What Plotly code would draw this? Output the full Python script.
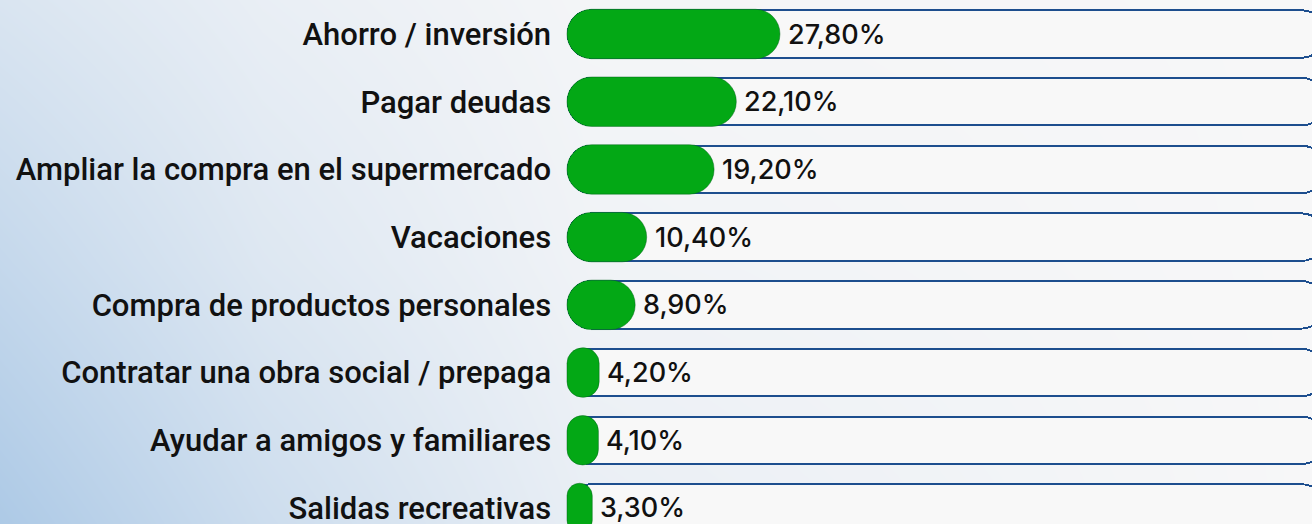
import plotly.graph_objects as go

# ---- data ----
categories = [
    "Ahorro / inversión",
    "Pagar deudas",
    "Ampliar la compra en el supermercado",
    "Vacaciones",
    "Compra de productos personales",
    "Contratar una obra social / prepaga",
    "Ayudar a amigos y familiares",
    "Salidas recreativas",
]
values = [27.8, 22.1, 19.2, 10.4, 8.9, 4.2, 4.1, 3.3]
value_labels = [f"{v:.2f}".replace(".", ",") + "%" for v in values]

# ---- style ----
TRACK_END = 98.8
GREEN = "#03a815"
NAVY = "#1d4e8e"
TRACK_FILL = "#f8f8f8"
BAR_W = 0.73
INNER_W = 0.672
BORDER_X = 0.26

W, H = 1312, 524
PX_PER_UNIT = 7.66
X0_PX = 567
x_min = -1.0
dom_start = (X0_PX + x_min * PX_PER_UNIT) / W
x_max = (W - X0_PX) / PX_PER_UNIT
ROW_PX = 67.71
FIRST_PX = 34
y_top = -FIRST_PX / ROW_PX
y_bot = (H - FIRST_PX) / ROW_PX

ys = list(range(len(categories)))
n = len(values)

fig = go.Figure()

# background gradient (main hidden axes)
fig.add_trace(go.Heatmap(
    x=[0, 0.2, 0.45, 1.0],
    y=[0, 0.5, 1.0],
    z=[[0.95, 0.55, 0.18, 0.0],
       [0.65, 0.33, 0.09, 0.0],
       [0.38, 0.18, 0.04, 0.0]],
    zmin=0, zmax=1, zsmooth="best", showscale=False, hoverinfo="skip",
    colorscale=[[0, "#f7f7f8"], [1, "#a9c7e5"]],
    xaxis="x", yaxis="y",
))


def pill_rows(starts, ends, width, color, name, line=None):
    fig.add_trace(go.Bar(
        y=ys, x=[e - s for s, e in zip(starts, ends)], base=starts,
        orientation="h", width=width,
        marker=dict(color=color, line=line or dict(width=0), cornerradius="50%"),
        hoverinfo="skip", showlegend=False, xaxis="x2", yaxis="y2", name=name,
    ))


# track: navy outline pill, light inner pill
pill_rows([0.0] * n, [TRACK_END + BORDER_X] * n, BAR_W, NAVY, "trackout")
pill_rows([BORDER_X] * n, [TRACK_END] * n, INNER_W, TRACK_FILL, "trackin")
# green value bars
pill_rows([0.0] * n, values, BAR_W, GREEN, "bar",
          line=dict(width=1, color="rgba(0,95,25,0.45)"))

# value labels
for y, v, t in zip(ys, values, value_labels):
    fig.add_annotation(
        x=v, y=y, xref="x2", yref="y2", text=t, showarrow=False,
        xanchor="left", yanchor="middle", xshift=6,
        font=dict(family="Inter", size=27, color="#111111", weight=500),
    )

fig.update_layout(
    width=W, height=H,
    margin=dict(l=0, r=0, t=0, b=0, autoexpand=False),
    barmode="overlay",
    bargap=0,
    paper_bgcolor="#f7f7f8",
    plot_bgcolor="rgba(0,0,0,0)",
    showlegend=False,
    xaxis=dict(domain=[0, 1], range=[0, 1], visible=False, fixedrange=True),
    yaxis=dict(domain=[0, 1], range=[0, 1], visible=False, fixedrange=True),
    xaxis2=dict(domain=[dom_start, 1], range=[x_min, x_max], anchor="y2",
                visible=False, fixedrange=True, automargin=False),
    yaxis2=dict(domain=[0, 1], range=[y_bot, y_top], anchor="x2",
                tickvals=ys, ticktext=categories, showgrid=False, zeroline=False,
                showline=False, ticks="outside", ticklen=1,
                tickcolor="rgba(0,0,0,0)", automargin=False,
                ticklabeloverflow="allow",
                tickfont=dict(family="Roboto", size=31, color="#111111", weight=500),
                fixedrange=True),
)

fig.write_html(
    "out.html",
    config={"displayModeBar": False, "staticPlot": True},
    post_script="document.body.style.margin='0';document.body.style.padding='0';",
)
